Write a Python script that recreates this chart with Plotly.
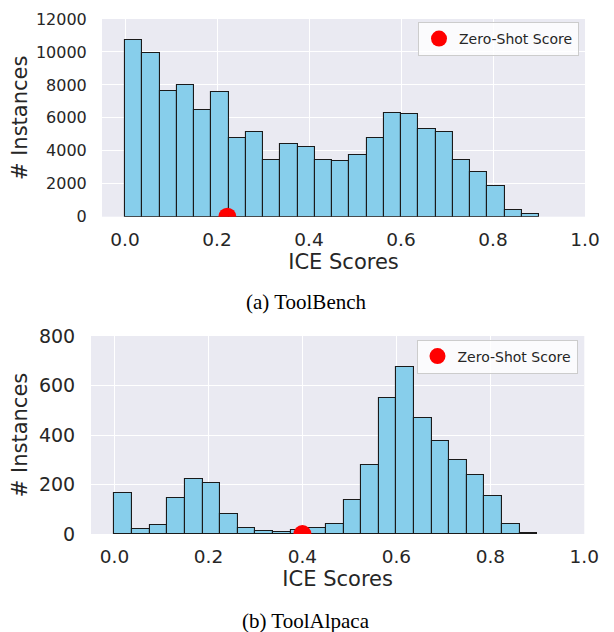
import numpy as np
import plotly.graph_objects as go

# ---- data ----
bin_edges = np.linspace(0.0, 0.9, 25)  # 24 histogram bins from 0.0 to 0.9
toolbench_counts = [10700, 9950, 7600, 7980, 6500, 7560, 4750, 5150, 3430, 4430,
                    4230, 3430, 3380, 3750, 4800, 6300, 6250, 5300, 5150, 3440,
                    2700, 1870, 430, 150]
toolalpaca_counts = [167, 20, 35, 146, 223, 206, 81, 24, 12, 8,
                     18, 24, 42, 136, 279, 549, 675, 469, 376, 300,
                     239, 154, 42, 3]
toolbench_zero_shot = 0.2225
toolalpaca_zero_shot = 0.40
x_ticks = [0.0, 0.2, 0.4, 0.6, 0.8, 1.0]
toolbench_yticks = [0, 2000, 4000, 6000, 8000, 10000, 12000]
toolalpaca_yticks = [0, 200, 400, 600, 800]
captions = ["(a) ToolBench", "(b) ToolAlpaca"]
legend_label = "Zero-Shot Score"

centers = (bin_edges[:-1] + bin_edges[1:]) / 2
width = bin_edges[1] - bin_edges[0]

# the page body has an 8px margin, so the figure is drawn at (8, 8)
OFF = 8
W, H = 614 - OFF, 632 - OFF
def px(x):
    return (x - OFF) / W
def py(y):
    return 1 - (y - OFF) / H

TXT = "#262626"
BG = "#EAEAF2"
FONT = "DejaVu Sans"

fig = go.Figure()

fig.add_trace(go.Bar(x=centers, y=toolbench_counts, width=width,
                     marker=dict(color="#87CEEB", line=dict(color="#1a1a1a", width=1.1)),
                     xaxis="x", yaxis="y", showlegend=False))
fig.add_trace(go.Scatter(x=[toolbench_zero_shot], y=[0], mode="markers",
                         marker=dict(color="red", size=18),
                         name=legend_label, xaxis="x", yaxis="y", legend="legend"))
fig.add_trace(go.Bar(x=centers, y=toolalpaca_counts, width=width,
                     marker=dict(color="#87CEEB", line=dict(color="#1a1a1a", width=1.1)),
                     xaxis="x2", yaxis="y2", showlegend=False))
fig.add_trace(go.Scatter(x=[toolalpaca_zero_shot], y=[0], mode="markers",
                         marker=dict(color="red", size=18),
                         name=legend_label, xaxis="x2", yaxis="y2", legend="legend2"))

xcommon = dict(range=[-0.05, 1.0], tickvals=x_ticks, tickformat=".1f",
               showgrid=True, gridcolor="white", gridwidth=1.2, zeroline=False,
               showline=False, ticks="outside", ticklen=0, ticklabelstandoff=6,
               automargin=False,
               tickfont=dict(family=FONT, size=18.5, color=TXT),
               title=dict(text="ICE Scores", font=dict(family=FONT, size=21, color=TXT), standoff=0))
ycommon = dict(showgrid=True, gridcolor="white", gridwidth=1.2, zeroline=False,
               showline=False, ticks="outside", ticklen=0, ticklabelstandoff=11,
               automargin=False, tickformat="d",
               title=dict(text="# Instances", font=dict(family=FONT, size=21, color=TXT), standoff=7))

fig.update_layout(
    width=W, height=H, margin=dict(l=0, r=0, t=0, b=0, autoexpand=False),
    paper_bgcolor="white", plot_bgcolor=BG, barmode="overlay", bargap=0,
    xaxis=dict(domain=[px(102), px(585)], anchor="y", **xcommon),
    yaxis=dict(domain=[py(216.7), py(19)], anchor="x", range=[0, 12000],
               tickvals=toolbench_yticks,
               tickfont=dict(family=FONT, size=16, color=TXT), **ycommon),
    xaxis2=dict(domain=[px(91), px(584.3)], anchor="y2", **xcommon),
    yaxis2=dict(domain=[py(534), py(336)], anchor="x2", range=[0, 800],
                tickvals=toolalpaca_yticks,
                tickfont=dict(family=FONT, size=19, color=TXT), **ycommon),
    legend=dict(x=px(579), y=py(22), xanchor="right", yanchor="top",
                bgcolor="rgba(255,255,255,0.8)", bordercolor="#CCCCCC", borderwidth=1,
                font=dict(family=FONT, size=14, color=TXT)),
    legend2=dict(x=px(577.5), y=py(339.5), xanchor="right", yanchor="top",
                 bgcolor="rgba(255,255,255,0.8)", bordercolor="#CCCCCC", borderwidth=1,
                 font=dict(family=FONT, size=14, color=TXT)),
    annotations=[
        dict(text=captions[0], x=px(306), y=py(301.7), xref="paper", yref="paper",
             showarrow=False, xanchor="center", yanchor="middle",
             font=dict(family="Liberation Serif", size=21, color="black")),
        dict(text=captions[1], x=px(306), y=py(621), xref="paper", yref="paper",
             showarrow=False, xanchor="center", yanchor="middle",
             font=dict(family="Liberation Serif", size=21, color="black")),
    ],
)

fig.write_html("out.html")
